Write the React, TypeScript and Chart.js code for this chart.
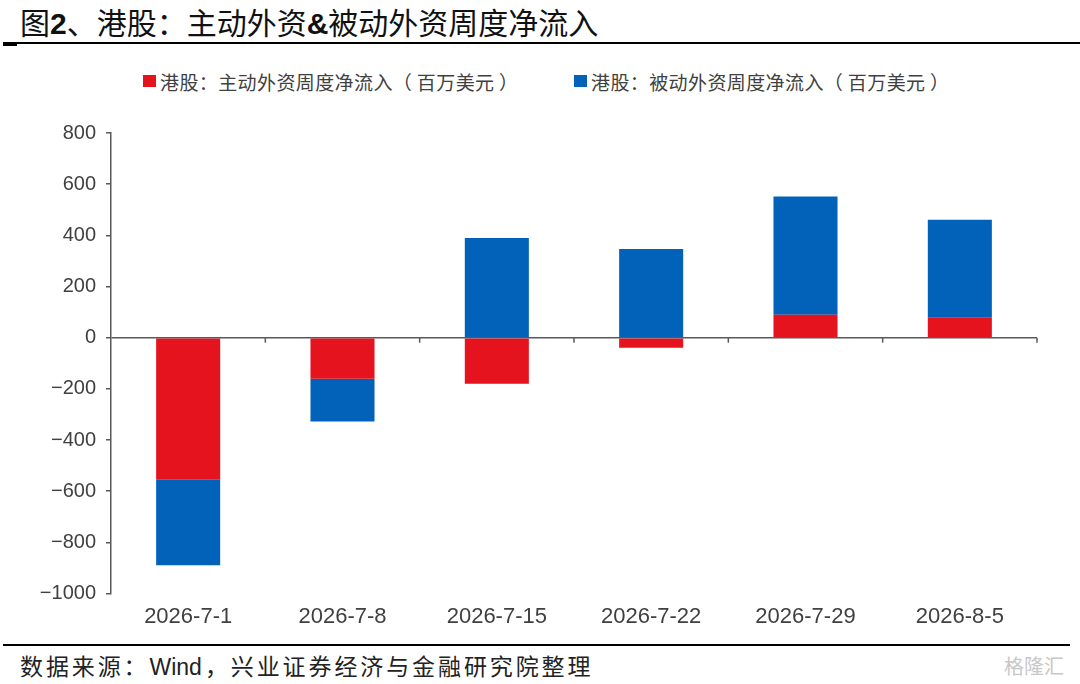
import { Chart, registerables } from "chart.js";
import { useEffect, useRef } from "react";

Chart.register(...registerables);

const categories = ["2026-7-1", "2026-7-8", "2026-7-15", "2026-7-22", "2026-7-29", "2026-8-5"];
const activeFlow = [-553, -160, -180, -39, 90, 78];
const passiveFlow = [-336, -167, 390, 347, 462, 383];
const seriesNames = [
  "港股：主动外资周度净流入（ 百万美元 ）",
  "港股：被动外资周度净流入（ 百万美元 ）",
];
const seriesColors = ["#E4131D", "#0262B9"];

const CJK = '"Liberation Sans", Arial, "Noto Sans CJK SC", sans-serif';
const AXIS = "#595959";

// little tick marks on the zero line between categories
const zeroTicks = {
  id: "zeroTicks",
  afterDraw(chart: any) {
    const x = chart.scales.x;
    const y = chart.scales.y;
    const y0 = y.getPixelForValue(0);
    const n = categories.length;
    const ctx = chart.ctx;
    ctx.save();
    ctx.strokeStyle = AXIS;
    ctx.lineWidth = 1.5;
    for (let i = 1; i <= n; i++) {
      const px = x.left + (i * x.width) / n;
      ctx.beginPath();
      ctx.moveTo(px, y0);
      ctx.lineTo(px, y0 + 5);
      ctx.stroke();
    }
    ctx.restore();
  },
};

const FlowChart = () => {
  const canvasRef = useRef<HTMLCanvasElement | null>(null);
  const chartRef = useRef<Chart | null>(null);

  useEffect(() => {
    if (chartRef.current) chartRef.current.destroy();
    if (!canvasRef.current) return;

    chartRef.current = new Chart(canvasRef.current, {
      type: "bar",
      data: {
        labels: categories,
        datasets: [
          { label: seriesNames[0], data: activeFlow, backgroundColor: seriesColors[0] },
          { label: seriesNames[1], data: passiveFlow, backgroundColor: seriesColors[1] },
        ],
      },
      options: {
        animation: false,
        responsive: true,
        maintainAspectRatio: false,
        layout: { padding: { left: 0, right: 43, top: 33, bottom: 0 } },
        datasets: { bar: { categoryPercentage: 1, barPercentage: 0.415 } },
        plugins: { legend: { display: false }, tooltip: { enabled: false } },
        scales: {
          x: {
            stacked: true,
            grid: { display: false, drawTicks: false },
            border: { display: false },
            ticks: { color: "#404040", padding: 10, font: { family: CJK, size: 22 } },
          },
          y: {
            stacked: true,
            min: -1000,
            max: 800,
            afterFit: (s: any) => {
              s.width = 111;
            },
            border: { display: true, color: AXIS, width: 1.5 },
            grid: {
              drawOnChartArea: true,
              color: (c: any) => (c.tick && c.tick.value === 0 ? AXIS : "rgba(0,0,0,0)"),
              lineWidth: 1.5,
              tickColor: AXIS,
              tickLength: 5,
            },
            ticks: {
              stepSize: 200,
              color: "#404040",
              padding: 10,
              font: { family: CJK, size: 20 },
              callback: (v: any) => String(v).replace("-", "\u2212"),
            },
          },
        },
      },
      plugins: [zeroTicks],
    });

    return () => {
      if (chartRef.current) {
        chartRef.current.destroy();
        chartRef.current = null;
      }
    };
  }, []);

  return (
    <div style={{ position: "absolute", left: 0, top: 100, width: 1080, height: 540 }}>
      <canvas ref={canvasRef} />
    </div>
  );
};

const LegendItem = ({ color, text, left }: { color: string; text: string; left: number }) => (
  <div
    style={{
      position: "absolute",
      left,
      top: 69,
      height: 24,
      display: "flex",
      alignItems: "center",
      whiteSpace: "nowrap",
      fontSize: 19,
      letterSpacing: "0.4px",
      color: "#404040",
    }}
  >
    <span style={{ width: 13, height: 12, background: color, marginRight: 4, display: "inline-block" }} />
    {text}
  </div>
);

const App = () => (
  <div
    style={{
      position: "absolute",
      left: 0,
      top: 0,
      width: 1080,
      height: 684,
      background: "#fff",
      fontFamily: '"Noto Sans CJK SC", "Liberation Sans", sans-serif',
      overflow: "hidden",
    }}
  >
    <div style={{ position: "absolute", left: 20, top: 3, fontSize: 30, lineHeight: "36px", color: "#111", whiteSpace: "nowrap" }}>
      图<b style={{ fontFamily: CJK }}>2</b>、港股：主动外资<b style={{ fontFamily: CJK }}>&amp;</b>被动外资周度净流入
    </div>
    <div style={{ position: "absolute", left: 3, right: 0, top: 42, height: 2, background: "#000" }} />
    <div style={{ position: "absolute", left: 3, width: 14, top: 43, height: 3, background: "#000" }} />

    <LegendItem color={seriesColors[0]} text={seriesNames[0]} left={143} />
    <LegendItem color={seriesColors[1]} text={seriesNames[1]} left={574} />

    <FlowChart />

    <div style={{ position: "absolute", left: 3, width: 1067, top: 644, height: 2, background: "#000" }} />
    <div
      style={{
        position: "absolute",
        left: 20,
        top: 649,
        fontSize: 23,
        letterSpacing: "2.9px",
        lineHeight: "32px",
        color: "#222",
        whiteSpace: "nowrap",
      }}
    >
      数据来源：<span style={{ fontFamily: CJK, letterSpacing: 0, marginRight: 3 }}>Wind</span>，兴业证券经济与金融研究院整理
    </div>
    <div style={{ position: "absolute", left: 1004, top: 652, fontSize: 20, lineHeight: "28px", color: "#c8c8c8", whiteSpace: "nowrap" }}>
      格隆汇
    </div>
  </div>
);

export default App;
